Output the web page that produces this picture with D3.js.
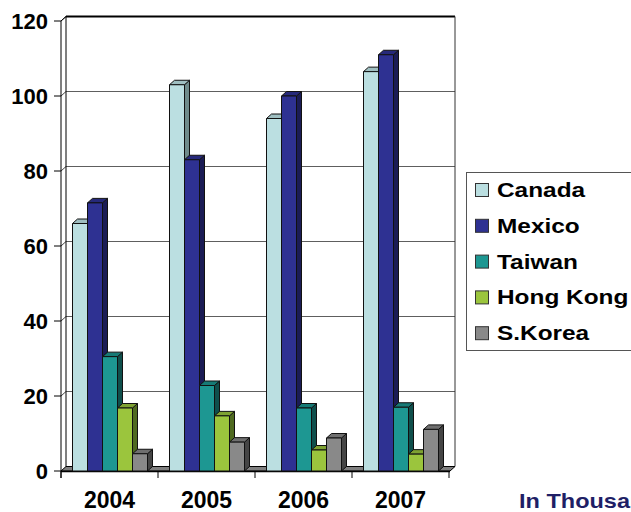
<!DOCTYPE html>
<html>
<head>
<meta charset="utf-8">
<script src="https://cdn.jsdelivr.net/npm/d3@7"></script>
<style>
  body { margin: 0; background: #fff; }
  svg { display: block; font-family: Arial, "Liberation Sans", sans-serif; font-weight: bold; }
</style>
</head>
<body>
<svg id="chart" width="631" height="512"></svg>
<script>
// chart data
var years = ["2004", "2005", "2006", "2007"];
var seriesNames = ["Canada", "Mexico", "Taiwan", "Hong Kong", "S.Korea"];
var canada = [66, 103, 94, 106.5];
var mexico = [71.5, 83, 100, 111];
var taiwan = [30.5, 22.8, 16.8, 17];
var hongKong = [16.8, 14.7, 5.6, 4.5];
var sKorea = [4.6, 7.7, 8.8, 11.1];
var yTicks = [0, 20, 40, 60, 80, 100, 120];

var seriesValues = [canada, mexico, taiwan, hongKong, sKorea];
// front, top, side shades per series
var colors = [
  { front: "#bbdfe1", top: "#9fbfc1", side: "#6f8b8b" },
  { front: "#2e3192", top: "#26297a", side: "#1b1c55" },
  { front: "#1d9792", top: "#167a76", side: "#0f4f4c" },
  { front: "#9bc53d", top: "#7ea232", side: "#4f6a20" },
  { front: "#898989", top: "#6f6f6f", side: "#454545" }
];

var svg = d3.select("#chart");
var dx = 5, dy = -4.5;   // depth offset of the 3d look

var y = d3.scaleLinear().domain([0, 120]).range([471, 21]);
var x0 = d3.scaleBand().domain(years).range([61, 449]);
var x1 = d3.scaleBand().domain(seriesNames).range([11.5, 86.5]);

var left = x0.range()[0], right = x0.range()[1], base = y(0);

// back wall gridlines
var grid = svg.append("g");
yTicks.slice(1).forEach(function (t) {
  grid.append("line")
    .attr("x1", left + dx).attr("x2", right + dx + 1)
    .attr("y1", y(t) + dy).attr("y2", y(t) + dy)
    .attr("stroke", "#5e5e5e").attr("stroke-width", 1);
  // side wall diagonal
  grid.append("line")
    .attr("x1", left).attr("y1", y(t))
    .attr("x2", left + dx).attr("y2", y(t) + dy)
    .attr("stroke", "#444").attr("stroke-width", 1);
});
// back wall frame
svg.append("line").attr("x1", left + dx).attr("x2", right + dx + 1)
  .attr("y1", y(120) + dy).attr("y2", y(120) + dy)
  .attr("stroke", "#000").attr("stroke-width", 2);
svg.append("line").attr("x1", left + dx).attr("x2", left + dx)
  .attr("y1", y(120) + dy).attr("y2", base + dy)
  .attr("stroke", "#000").attr("stroke-width", 1);
svg.append("line").attr("x1", right + dx + 1).attr("x2", right + dx + 1)
  .attr("y1", y(120) + dy).attr("y2", base + dy)
  .attr("stroke", "#333").attr("stroke-width", 1);

// floor
svg.append("path")
  .attr("d", "M" + left + "," + base + "L" + (right + 1) + "," + base +
    "L" + (right + 1 + dx) + "," + (base + dy) + "L" + (left + dx) + "," + (base + dy) + "Z")
  .attr("fill", "#7f7f7f").attr("stroke", "#000").attr("stroke-width", 1);
svg.append("line").attr("x1", left).attr("x2", right + 1)
  .attr("y1", base + 0.5).attr("y2", base + 0.5)
  .attr("stroke", "#000").attr("stroke-width", 1.5);

// bars
var bars = svg.append("g").attr("stroke", "#111").attr("stroke-width", 1).attr("stroke-linejoin", "round");
years.forEach(function (yr, i) {
  seriesNames.forEach(function (s, j) {
    var v = seriesValues[j][i];
    var bx = x0(yr) + x1(s), bw = x1.bandwidth(), by = y(v), c = colors[j];
    var g = bars.append("g");
    g.append("path")
      .attr("d", "M" + (bx + bw) + "," + by + "L" + (bx + bw + dx) + "," + (by + dy) +
        "L" + (bx + bw + dx) + "," + (base + dy) + "L" + (bx + bw) + "," + base + "Z")
      .attr("fill", c.side);
    g.append("path")
      .attr("d", "M" + bx + "," + by + "L" + (bx + dx) + "," + (by + dy) +
        "L" + (bx + bw + dx) + "," + (by + dy) + "L" + (bx + bw) + "," + by + "Z")
      .attr("fill", c.top);
    g.append("rect")
      .attr("x", bx).attr("y", by).attr("width", bw).attr("height", base - by)
      .attr("fill", c.front);
  });
});

// front y axis
svg.append("line").attr("x1", left).attr("x2", left)
  .attr("y1", y(120)).attr("y2", base + 7)
  .attr("stroke", "#000").attr("stroke-width", 1);
svg.append("line").attr("x1", left).attr("y1", y(120))
  .attr("x2", left + dx).attr("y2", y(120) + dy)
  .attr("stroke", "#000").attr("stroke-width", 1);
var yAxis = svg.append("g");
yTicks.forEach(function (t) {
  yAxis.append("line").attr("x1", left - 7).attr("x2", left)
    .attr("y1", y(t)).attr("y2", y(t)).attr("stroke", "#000");
  yAxis.append("text")
    .attr("x", 48).attr("y", y(t) + 8)
    .attr("text-anchor", "end")
    .attr("font-size", 22)
    .attr("fill", "#000")
    .text(t);
});

// x axis ticks and labels
var xAxis = svg.append("g");
x0.domain().concat(["end"]).forEach(function (yr, i) {
  var tx = left + i * x0.bandwidth();
  xAxis.append("line").attr("x1", tx).attr("x2", tx)
    .attr("y1", base).attr("y2", base + 7).attr("stroke", "#000");
});
years.forEach(function (yr) {
  xAxis.append("text")
    .attr("x", x0(yr) + x0.bandwidth() / 2).attr("y", 508)
    .attr("text-anchor", "middle")
    .attr("font-size", 23)
    .attr("fill", "#000")
    .text(yr);
});

// legend
var legend = svg.append("g");
legend.append("rect")
  .attr("x", 466.5).attr("y", 172.5).attr("width", 200).attr("height", 178)
  .attr("fill", "#fff").attr("stroke", "#555").attr("stroke-width", 1);
seriesNames.forEach(function (s, j) {
  var cy = 190 + j * 35.8;
  legend.append("rect")
    .attr("x", 475.5).attr("y", cy - 6.5).attr("width", 13).attr("height", 13)
    .attr("fill", colors[j].front).attr("stroke", "#333").attr("stroke-width", 1);
  legend.append("text")
    .attr("transform", "translate(497," + (cy + 7) + ") scale(1.22,1)")
    .attr("font-size", 20)
    .attr("fill", "#000")
    .text(s);
});

// unit note (runs off the right edge, as in the original)
svg.append("text")
  .attr("transform", "translate(519,508) scale(1.12,1)")
  .attr("font-size", 21)
  .attr("fill", "#1f1f66")
  .text("In Thousands");
</script>
</body>
</html>
